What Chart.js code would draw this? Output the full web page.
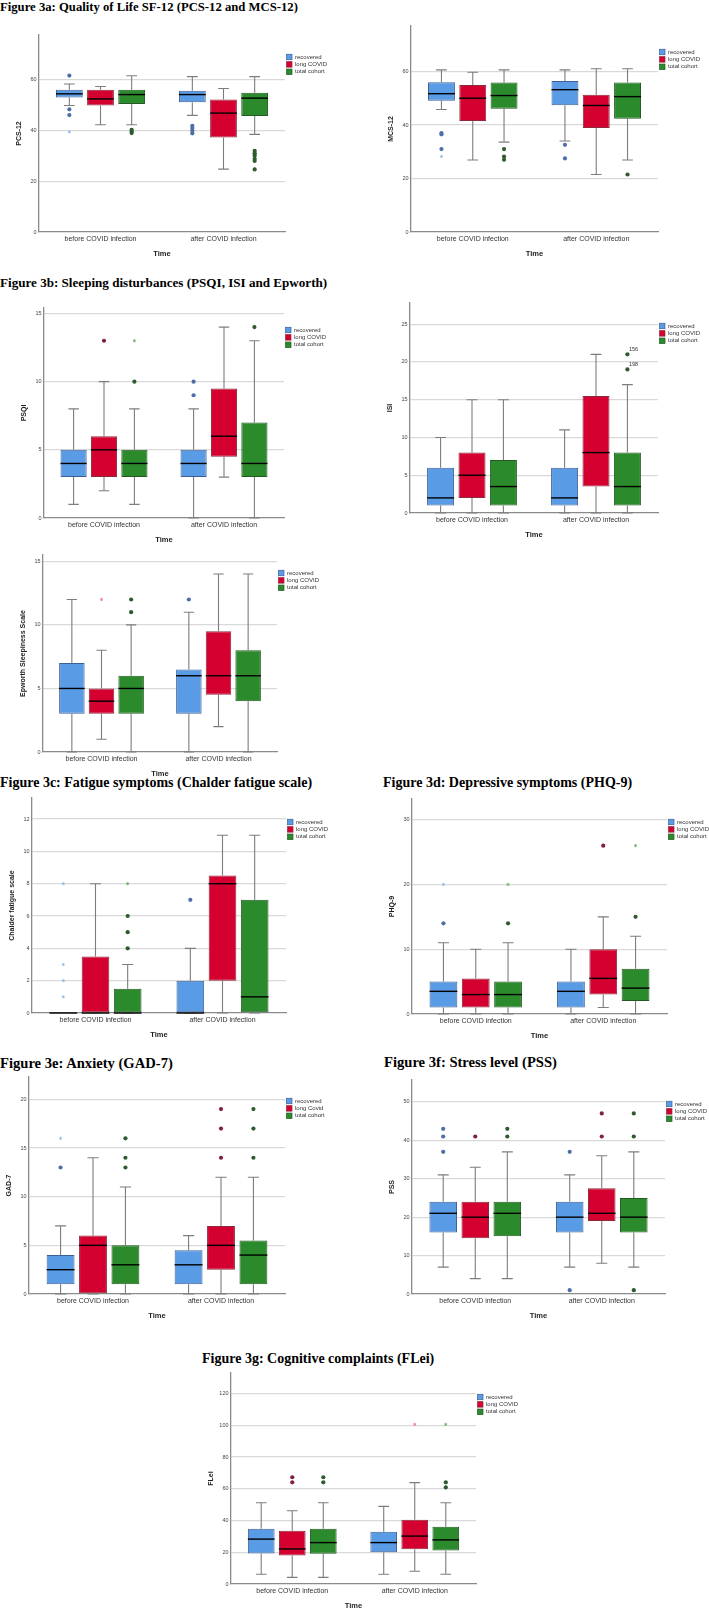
<!DOCTYPE html>
<html>
<head>
<meta charset="utf-8">
<script src="https://cdn.jsdelivr.net/npm/chart.js@4.4.0/dist/chart.umd.min.js"></script>
<style>
  body { margin: 0; background: #fff; width: 709px; height: 1610px; position: relative; overflow: hidden; }
  .t { position: absolute; font-family: "Liberation Serif", "Times New Roman", serif; font-weight: bold; color: #000; white-space: nowrap; line-height: 16px; }
  canvas { position: absolute; }
</style>
</head>
<body>
<div class="t" style="left:0;top:-1px;font-size:12.7px">Figure 3a: Quality of Life SF-12 (PCS-12 and MCS-12)</div>
<div class="t" style="left:0;top:275px;font-size:13.1px">Figure 3b: Sleeping disturbances (PSQI, ISI and Epworth)</div>
<div class="t" style="left:0;top:775px;font-size:14px">Figure 3c: Fatigue symptoms (Chalder fatigue scale)</div>
<div class="t" style="left:383px;top:775px;font-size:14px">Figure 3d: Depressive symptoms (PHQ-9)</div>
<div class="t" style="left:0;top:1055px;font-size:14.6px">Figure 3e: Anxiety (GAD-7)</div>
<div class="t" style="left:384px;top:1054px;font-size:14.6px">Figure 3f: Stress level (PSS)</div>
<div class="t" style="left:202px;top:1351px;font-size:14px">Figure 3g: Cognitive complaints (FLei)</div>

<canvas id="pcs"></canvas>
<canvas id="mcs"></canvas>
<canvas id="psqi"></canvas>
<canvas id="isi"></canvas>
<canvas id="ess"></canvas>
<canvas id="cfs"></canvas>
<canvas id="phq"></canvas>
<canvas id="gad"></canvas>
<canvas id="pss"></canvas>
<canvas id="flei"></canvas>

<script>
// groups on the x axis and the three series
const times = ['before COVID infection', 'after COVID infection'];
const groups = ['recovered', 'long COVID', 'total cohort'];
const groupsGad = ['recovered', 'long Covid', 'total cohort'];

// box stats per series, per time: [lower whisker, Q1, median, Q3, upper whisker]
// out = outliers (circles), ext = extreme values (stars)
const pcsBox = [
  [[49.9, 53.0, 54.5, 56.1, 58.4], [46.0, 51.2, 54.2, 55.7, 61.3]],
  [[42.3, 49.9, 52.5, 56.1, 57.4], [24.8, 37.3, 46.9, 52.3, 56.6]],
  [[42.3, 50.5, 54.2, 56.1, 61.6], [38.5, 45.8, 52.8, 54.9, 61.3]]
];
const pcsOut = [[[61.7, 48.4, 46.1], [41.9, 41.0, 40.0, 38.9]], [[], []], [[40.3, 39.6, 39.0], [32.0, 31.1, 30.2, 28.9, 28.0, 24.7]]];
const pcsExt = [[[39.5], []], [[], []], [[], []]];

const mcsBox = [
  [[45.8, 49.1, 51.7, 56.0, 60.6], [34.0, 47.4, 53.2, 56.4, 60.6]],
  [[26.9, 41.5, 50.0, 54.9, 59.7], [21.5, 38.9, 47.3, 51.3, 61.0]],
  [[33.6, 46.1, 51.0, 55.9, 60.6], [26.9, 42.3, 50.6, 55.9, 61.0]]
];
const mcsOut = [[[37.0, 36.5, 31.0], [32.6, 27.5]], [[], []], [[31.0, 28.2, 27.0], [21.5]]];
const mcsExt = [[[28.2], []], [[], []], [[], []]];

const psqiBox = [
  [[1, 3, 4, 5, 8], [0, 3, 4, 5, 8]],
  [[2, 3, 5, 6, 10], [3, 4.5, 6, 9.5, 14]],
  [[1, 3, 4, 5, 8], [0, 3, 4, 7, 13]]
];
const psqiOut = [[[], [10, 9]], [[13], []], [[10], [14]]];
const psqiExt = [[[], []], [[], []], [[13], []]];

const isiBox = [
  [[0, 1, 2, 6, 10], [0, 1, 2, 6, 11]],
  [[0, 2, 5, 8, 15], [0, 3.5, 8, 15.5, 21]],
  [[0, 1, 3.5, 7, 15], [0, 1, 3.5, 8, 17]]
];
const isiOut = [[[], []], [[], []], [[], [21, 19]]];
const isiExt = [[[], []], [[], []], [[], []]];
const isiTags = [[[], []], [[], []], [[], ['156', '198']]];

const essBox = [
  [[0, 3, 5, 7, 12], [0, 3, 6, 6.5, 11]],
  [[1, 3, 4, 5, 8], [2, 4.5, 6, 9.5, 14]],
  [[0, 3, 5, 6, 10], [0, 4, 6, 8, 14]]
];
const essOut = [[[], [12]], [[], []], [[12, 11], []]];
const essExt = [[[], []], [[12], []], [[], []]];

const cfsBox = [
  [[0, 0, 0, 0, 0], [0, 0, 0, 2, 4]],
  [[0, 0, 0, 3.5, 8], [0, 2, 8, 8.5, 11]],
  [[0, 0, 0, 1.5, 3], [0, 0, 1, 7, 11]]
];
const cfsOut = [[[], [7]], [[], []], [[6, 5, 4], []]];
const cfsExt = [[[8, 3, 2, 1], []], [[], []], [[8], []]];

const phqBox = [
  [[0, 1, 3.5, 5, 11], [0, 1, 3.5, 5, 10]],
  [[0, 1, 3, 5.5, 10], [1, 3, 5.5, 10, 15]],
  [[0, 1, 3, 5, 11], [0, 2, 4, 7, 12]]
];
const phqOut = [[[14], []], [[], [26]], [[14], [15]]];
const phqExt = [[[20], []], [[], []], [[20], [26]]];

const gadBox = [
  [[0, 1, 2.5, 4, 7], [0, 1, 3, 4.5, 6]],
  [[0, 0, 5, 6, 14], [0, 2.5, 5, 7, 12]],
  [[0, 1, 3, 5, 11], [0, 1, 4, 5.5, 12]]
];
const gadOut = [[[13], []], [[], [19, 17, 14]], [[16, 14, 13], [19, 17, 14]]];
const gadExt = [[[16], []], [[], []], [[], []]];

const pssBox = [
  [[7, 16, 21, 24, 31], [7, 16, 20, 24, 31]],
  [[4, 14.5, 20, 24, 33], [8, 19, 21, 27.5, 36]],
  [[4, 15, 21, 24, 37], [7, 16, 20, 25, 37]]
];
const pssOut = [[[43, 41, 37], [37, 1]], [[41], [47, 41]], [[43, 41], [47, 41, 1]]];
const pssExt = [[[], []], [[], []], [[], []]];

const fleiBox = [
  [[6.1, 19.2, 28.3, 34.8, 51.2], [6.1, 20.0, 26.1, 32.9, 48.9]],
  [[4.2, 17.9, 22.1, 33.5, 46.2], [8.0, 21.9, 30.2, 40.5, 63.9]],
  [[4.2, 19.0, 26.1, 34.8, 51.2], [6.1, 21.1, 27.8, 36.1, 51.2]]
];
const fleiOut = [[[], []], [[67.3, 64.1], []], [[67.3, 64.1], [64.1, 60.9]]];
const fleiExt = [[[], []], [[], [100.6]], [[], [100.6]]];

const fills = ['#5a9be6', '#d4002f', '#2b8a2b'];
const edges = ['#3f5f94', '#8c2a3c', '#235a23'];
const dotCol = ['#4d6ea8', '#82213f', '#2e5a2e'];
const starCol = ['#8ab3ec', '#f0708c', '#5eaa5e'];

Chart.defaults.font.family = '"Liberation Sans", Arial, sans-serif';
Chart.defaults.color = '#333';

// plot rect on the page: [left, top, right, bottom]; leg = legend offset below plot top
const panels = [
  {id: 'pcs', box: pcsBox, out: pcsOut, ext: pcsExt, y: 'PCS-12', max: 77.7, step: 20, rect: [39, 35, 285, 232], leg: 22},
  {id: 'mcs', box: mcsBox, out: mcsOut, ext: mcsExt, y: 'MCS-12', max: 77, step: 20, rect: [411, 26, 658, 232], leg: 26},
  {id: 'psqi', box: psqiBox, out: psqiOut, ext: psqiExt, y: 'PSQI', max: 15.4, step: 5, rect: [44, 308, 284, 518], leg: 22},
  {id: 'isi', box: isiBox, out: isiOut, ext: isiExt, tags: isiTags, y: 'ISI', max: 27.8, step: 5, rect: [410, 303, 658, 513], leg: 23},
  {id: 'ess', box: essBox, out: essOut, ext: essExt, y: 'Epworth Sleepiness Scale', max: 15.5, step: 5, rect: [43, 555, 277, 752], leg: 18},
  {id: 'cfs', box: cfsBox, out: cfsOut, ext: cfsExt, y: 'Chalder fatigue scale', max: 13.3, step: 2, rect: [32, 798, 286, 1013], leg: 24},
  {id: 'phq', box: phqBox, out: phqOut, ext: phqExt, y: 'PHQ-9', max: 33.2, step: 10, rect: [412, 799, 667, 1014], leg: 23},
  {id: 'gad', box: gadBox, out: gadOut, ext: gadExt, y: 'GAD-7', max: 22.3, step: 5, rect: [29, 1077, 285, 1294], names: groupsGad, leg: 24},
  {id: 'pss', box: pssBox, out: pssOut, ext: pssExt, y: 'PSS', max: 55.7, step: 10, rect: [412, 1080, 665, 1294], leg: 24},
  {id: 'flei', box: fleiBox, out: fleiOut, ext: fleiExt, y: 'FLei', max: 133, step: 20, rect: [231, 1373, 476, 1584], leg: 24}
];

function boxPlugin(p) {
  return {
    id: 'boxPlot',
    beforeDatasetsDraw(chart) {
      const ctx = chart.ctx, ys = chart.scales.y;
      ctx.save();
      ctx.strokeStyle = '#7d7d7d';
      ctx.lineWidth = 1.1;
      p.box.forEach((series, i) => {
        const meta = chart.getDatasetMeta(i);
        series.forEach((b, j) => {
          if (b[4] === b[0]) return;
          const bar = meta.data[j];
          const x = bar.x, cap = bar.width * 0.2;
          const lo = ys.getPixelForValue(b[0]), q1 = ys.getPixelForValue(b[1]);
          const q3 = ys.getPixelForValue(b[3]), hi = ys.getPixelForValue(b[4]);
          ctx.beginPath();
          ctx.moveTo(x, lo); ctx.lineTo(x, q1);
          ctx.moveTo(x, q3); ctx.lineTo(x, hi);
          ctx.moveTo(x - cap, lo); ctx.lineTo(x + cap, lo);
          ctx.moveTo(x - cap, hi); ctx.lineTo(x + cap, hi);
          ctx.stroke();
        });
      });
      ctx.restore();
    },
    afterDatasetsDraw(chart) {
      const ctx = chart.ctx, ys = chart.scales.y;
      ctx.save();
      p.box.forEach((series, i) => {
        const meta = chart.getDatasetMeta(i);
        series.forEach((b, j) => {
          const bar = meta.data[j];
          const x = bar.x, w = bar.width;
          // median
          ctx.strokeStyle = '#000';
          ctx.lineWidth = 1.4;
          const m = ys.getPixelForValue(b[2]);
          ctx.beginPath();
          ctx.moveTo(x - w / 2, m); ctx.lineTo(x + w / 2, m);
          ctx.stroke();
          // outliers
          ctx.fillStyle = dotCol[i];
          p.out[i][j].forEach(v => {
            ctx.beginPath();
            ctx.arc(x, ys.getPixelForValue(v), 2.1, 0, Math.PI * 2);
            ctx.fill();
          });
          // extremes
          ctx.strokeStyle = starCol[i];
          ctx.lineWidth = 0.8;
          p.ext[i][j].forEach(v => {
            const yy = ys.getPixelForValue(v), r = 1.6;
            ctx.beginPath();
            for (let k = 0; k < 3; k++) {
              const a = Math.PI / 2 + k * Math.PI / 3;
              ctx.moveTo(x - r * Math.cos(a), yy - r * Math.sin(a));
              ctx.lineTo(x + r * Math.cos(a), yy + r * Math.sin(a));
            }
            ctx.stroke();
          });
          if (p.tags) {
            ctx.fillStyle = '#333';
            ctx.font = '5.5px "Liberation Sans", Arial, sans-serif';
            ctx.textBaseline = 'middle';
            p.tags[i][j].forEach((t, k) => {
              ctx.fillText(t, x + 1.5, ys.getPixelForValue(p.out[i][j][k]) - 5);
            });
          }
        });
      });
      ctx.restore();
    },
    // SPSS style legend just right of the plot, near the top
    afterDraw(chart) {
      const {ctx, chartArea} = chart;
      ctx.save();
      ctx.font = '6px "Liberation Sans", Arial, sans-serif';
      ctx.textBaseline = 'middle';
      chart.data.datasets.forEach((ds, i) => {
        const x = chartArea.right + 1.5;
        const yc = chartArea.top + p.leg + i * 7.4;
        ctx.fillStyle = ds.backgroundColor;
        ctx.fillRect(x, yc - 2.75, 5.5, 5.5);
        ctx.strokeStyle = ds.borderColor;
        ctx.lineWidth = 0.7;
        ctx.strokeRect(x, yc - 2.75, 5.5, 5.5);
        ctx.fillStyle = '#333';
        ctx.fillText(ds.label, x + 8.5, yc);
      });
      ctx.restore();
    }
  };
}

panels.forEach(p => {
  const [L, T, R, B] = p.rect;
  const cv = document.getElementById(p.id);
  const w = R - L + 100, h = B - T + 34;
  cv.width = w; cv.height = h;
  cv.style.left = (L - 40) + 'px';
  cv.style.top = (T - 6) + 'px';
  const names = p.names || groups;

  new Chart(cv, {
    type: 'bar',
    data: {
      labels: times,
      datasets: p.box.map((series, i) => ({
        label: names[i],
        data: series.map(b => [b[1], b[3]]),
        backgroundColor: fills[i],
        borderColor: edges[i],
        borderWidth: 1,
        borderSkipped: false,
        categoryPercentage: 0.76,
        barPercentage: 0.86
      }))
    },
    options: {
      responsive: false,
      animation: false,
      layout: {padding: {left: 0, top: 6, right: 60, bottom: 0}},
      plugins: {
        tooltip: {enabled: false},
        legend: {display: false}
      },
      scales: {
        x: {
          grid: {display: false, drawTicks: false},
          border: {color: '#8a8a8a', width: 1.3},
          ticks: {font: {size: 7}, color: '#333', padding: 3},
          title: {display: true, text: 'Time', font: {size: 7.5, weight: 'bold'}, color: '#222', padding: {top: 0, bottom: 1.5}},
          afterFit: s => { s.height = 28; }
        },
        y: {
          min: 0,
          max: p.max,
          ticks: {stepSize: p.step, includeBounds: false, font: {size: 5.5}, color: '#444', padding: 2.5},
          grid: {
            color: c => (c.tick && c.tick.value === 0) ? 'rgba(0,0,0,0)' : '#d9d9d9',
            lineWidth: 1.3,
            drawTicks: false
          },
          border: {color: '#8a8a8a', width: 1.3},
          title: {display: true, text: p.y, font: {size: 7, weight: 'bold'}, color: '#222', padding: {top: 16, bottom: 0}},
          afterFit: s => { s.width = 40; }
        }
      }
    },
    plugins: [boxPlugin(p)]
  });
});
</script>
</body>
</html>
